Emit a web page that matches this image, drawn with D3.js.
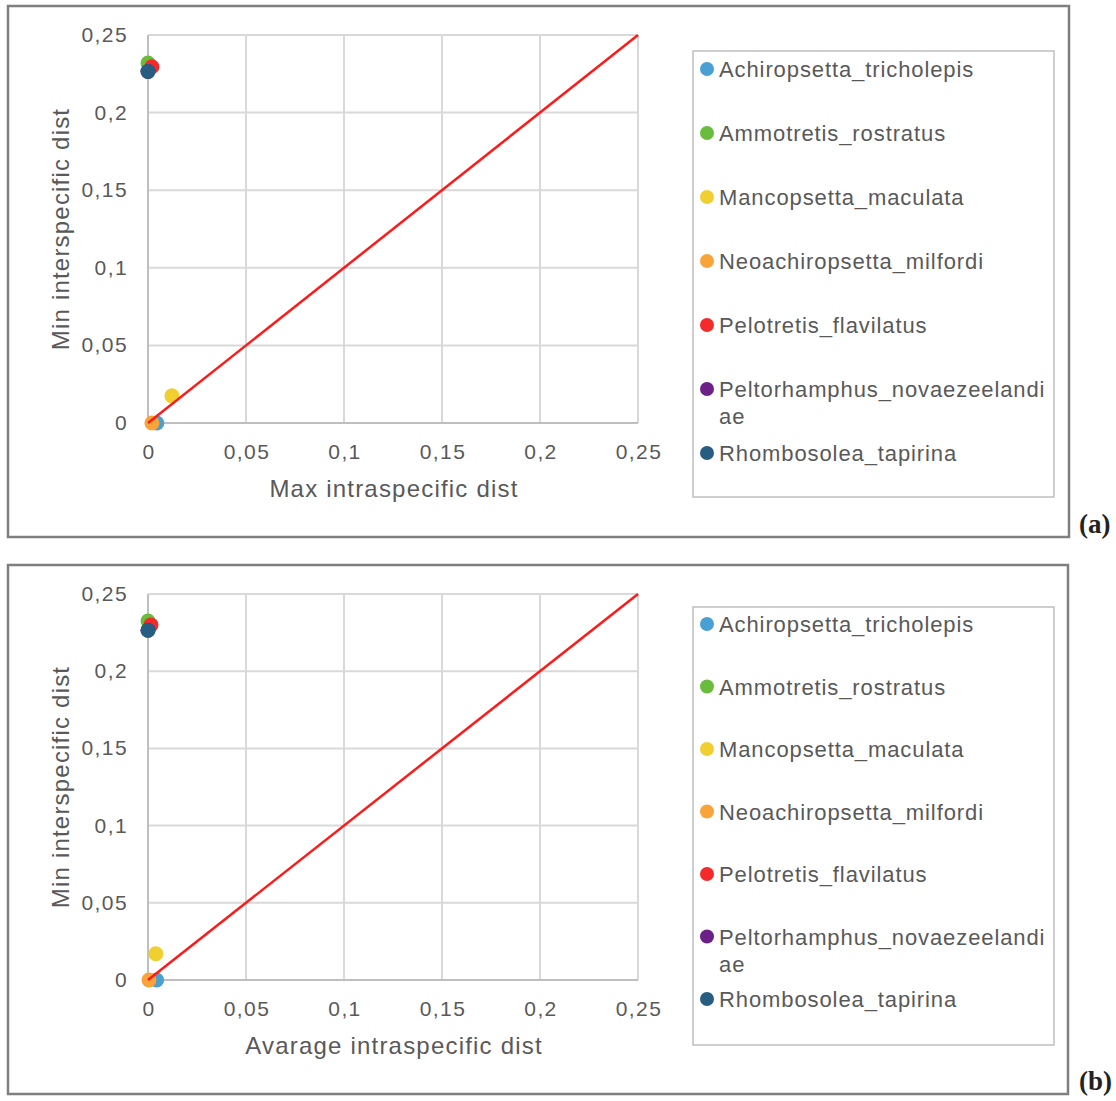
<!DOCTYPE html>
<html><head><meta charset="utf-8">
<script src="https://cdn.jsdelivr.net/npm/d3@7"></script>
<style>
html,body{margin:0;padding:0;background:#fff;}
svg text{font-family:"Liberation Sans",Arial,sans-serif;}
svg text.plabel{font-family:"Liberation Serif","DejaVu Serif",serif;}
</style></head>
<body>
<svg id="chart" width="1116" height="1101"></svg>
<script>
// ---- data ----
const species = ["Achiropsetta_tricholepis","Ammotretis_rostratus","Mancopsetta_maculata","Neoachiropsetta_milfordi","Pelotretis_flavilatus","Peltorhamphus_novaezeelandiae","Rhombosolea_tapirina"];
const legendLines = [["Achiropsetta_tricholepis"],["Ammotretis_rostratus"],["Mancopsetta_maculata"],["Neoachiropsetta_milfordi"],["Pelotretis_flavilatus"],["Peltorhamphus_novaezeelandi","ae"],["Rhombosolea_tapirina"]];
const colors = ["#4a9fd3","#6abd3c","#f0d030","#f9a43a","#f52a2a","#6b2188","#265d80"];
// panel (a): max intraspecific vs min interspecific
const maxIntra   = [0.0045, 0.0000, 0.0122, 0.0020, 0.0020, 0.0000, 0.0000];
const minInterA  = [0.0000, 0.2320, 0.0175, 0.0000, 0.2295, 0.2265, 0.2265];
// panel (b): average intraspecific vs min interspecific
const avgIntra   = [0.0044, 0.0000, 0.0040, 0.0005, 0.0015, 0.0000, 0.0000];
const minInterB  = [0.0000, 0.2325, 0.0170, 0.0000, 0.2300, 0.2265, 0.2265];
const tickValues = [0, 0.05, 0.1, 0.15, 0.2, 0.25];
const tickLabels = ["0","0,05","0,1","0,15","0,2","0,25"];
const lineData = [[0,0],[0.25,0.25]];

const svg = d3.select("#chart");
const txt = "#595959";

function panel(cfg){
  const g = svg.append("g");
  g.append("rect").attr("x",cfg.fx).attr("y",cfg.fy).attr("width",cfg.fw).attr("height",cfg.fh)
    .attr("fill","#fff").attr("stroke","#7f7f7f").attr("stroke-width",2.5);
  const x = d3.scaleLinear().domain([0,0.25]).range([148,638]);
  const y = d3.scaleLinear().domain([0,0.25]).range([cfg.y0,cfg.y1]);
  // gridlines
  g.append("g").selectAll("line.v").data(tickValues.slice(1)).join("line")
    .attr("x1",d=>x(d)).attr("x2",d=>x(d)).attr("y1",y(0)).attr("y2",y(0.25))
    .attr("stroke","#d9d9d9").attr("stroke-width",2);
  g.append("g").selectAll("line.h").data(tickValues.slice(1)).join("line")
    .attr("x1",x(0)).attr("x2",x(0.25)).attr("y1",d=>y(d)).attr("y2",d=>y(d))
    .attr("stroke","#d9d9d9").attr("stroke-width",2);
  // axes lines
  g.append("line").attr("x1",x(0)).attr("x2",x(0)).attr("y1",y(0)).attr("y2",y(0.25)).attr("stroke","#bfbfbf").attr("stroke-width",2);
  g.append("line").attr("x1",x(0)).attr("x2",x(0.25)).attr("y1",y(0)).attr("y2",y(0)).attr("stroke","#bfbfbf").attr("stroke-width",2);
  // tick labels
  g.append("g").selectAll("text").data(tickValues).join("text")
    .attr("x",128).attr("y",d=>y(d)+7).attr("text-anchor","end")
    .attr("font-size",21).attr("letter-spacing",1.4).attr("fill",txt).text((d,i)=>tickLabels[i]);
  g.append("g").selectAll("text").data(tickValues).join("text")
    .attr("x",d=>x(d)+1).attr("y",y(0)+36).attr("text-anchor","middle")
    .attr("font-size",21).attr("letter-spacing",1.4).attr("fill",txt).text((d,i)=>tickLabels[i]);
  // titles
  g.append("text").attr("x",394).attr("y",y(0)+74).attr("text-anchor","middle")
    .attr("font-size",24).attr("letter-spacing",1.2).attr("fill",txt).text(cfg.xTitle);
  g.append("text").attr("transform",`translate(69,${(y(0)+y(0.25))/2}) rotate(-90)`)
    .attr("text-anchor","middle").attr("font-size",24).attr("letter-spacing",1.2).attr("fill",txt).text("Min interspecific dist");
  // points
  g.append("g").selectAll("circle").data(species.map((s,i)=>({s,i,x:cfg.xs[i],y:cfg.ys[i]}))).join("circle")
    .attr("cx",d=>x(d.x)).attr("cy",d=>y(d.y)).attr("r",7.5).attr("fill",d=>colors[d.i]);
  // diagonal
  g.append("path").datum(lineData).attr("d",d3.line().x(d=>x(d[0])).y(d=>y(d[1])))
    .attr("stroke","#ff1a1a").attr("stroke-width",2.5).attr("fill","none");
  // legend
  g.append("rect").attr("x",693).attr("y",cfg.ly).attr("width",361).attr("height",cfg.lh)
    .attr("fill","#fff").attr("stroke","#bfbfbf").attr("stroke-width",1.5);
  const items = g.append("g").selectAll("g").data(legendLines).join("g")
    .attr("transform",(d,i)=>`translate(0,${cfg.ly+cfg.loff+i*cfg.lstep})`);
  items.append("circle").attr("cx",707).attr("cy",0).attr("r",7).attr("fill",(d,i)=>colors[i]);
  items.each(function(d){
    const t = d3.select(this).append("text").attr("x",719).attr("y",8).attr("font-size",22)
      .attr("letter-spacing",0.9).attr("fill",txt);
    d.forEach((ln,k)=>t.append("tspan").attr("x",719).attr("dy",k===0?0:27).text(ln));
  });
  // panel label
  svg.append("text").attr("class","plabel").attr("x",1079).attr("y",cfg.fy+cfg.fh-4)
    .attr("font-size",27).attr("font-weight","bold").attr("fill","#222").text(cfg.label);
}

panel({fx:8,fy:6,fw:1061,fh:531,y0:423,y1:35,xTitle:"Max intraspecific dist",xs:maxIntra,ys:minInterA,ly:51,lh:446,loff:18,lstep:64,label:"(a)"});
panel({fx:8,fy:565,fw:1060,fh:529,y0:980,y1:594,xTitle:"Avarage intraspecific dist",xs:avgIntra,ys:minInterB,ly:607,lh:438,loff:17,lstep:62.5,label:"(b)"});
</script>
</body></html>
